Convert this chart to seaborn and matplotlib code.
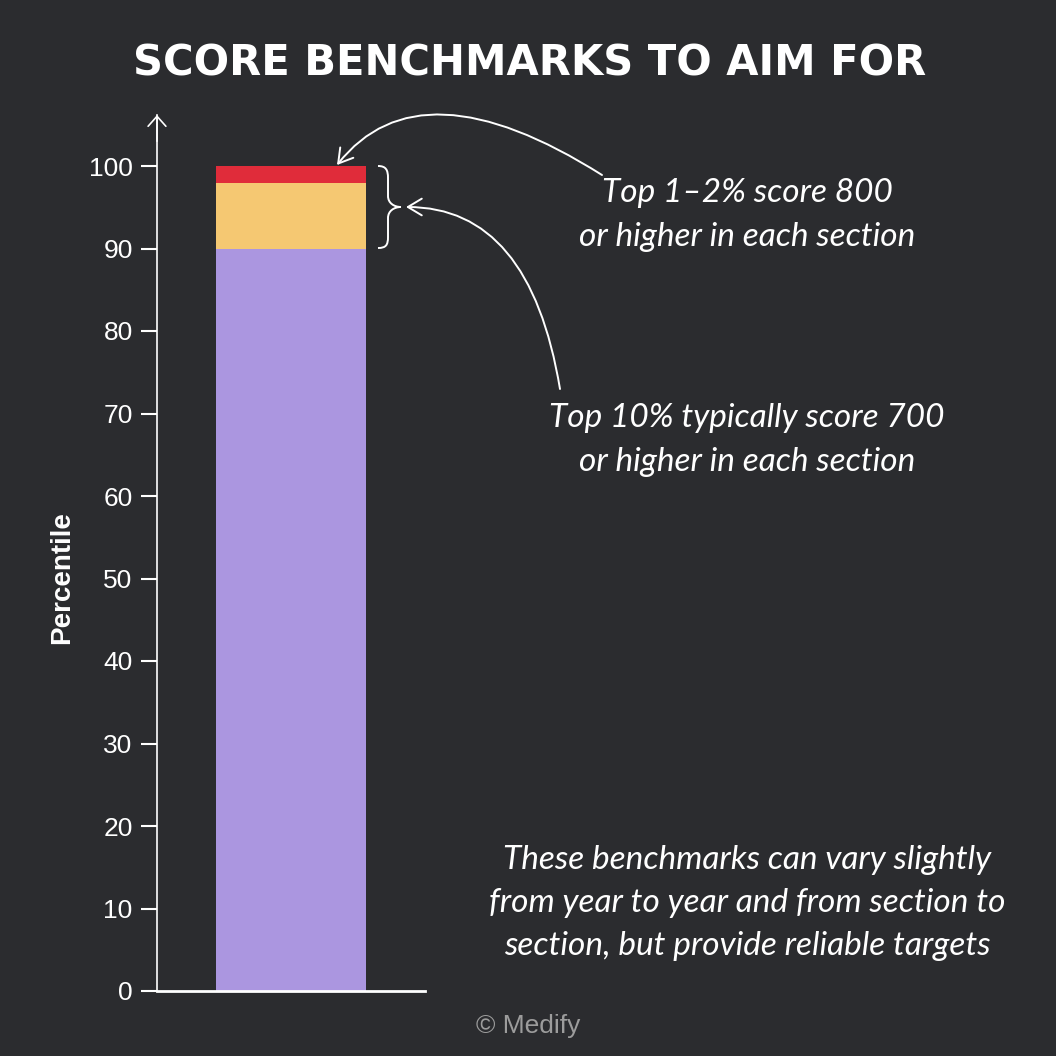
import seaborn as sns
import pandas as pd
import matplotlib.pyplot as plt
from matplotlib.path import Path
from matplotlib.patches import PathPatch

# data
segments = ['Top 1-2%', 'Top 10%', 'Rest']
segment_tops = [100, 98, 90]
segment_colors = ['#e02c3a', '#f5c872', '#ab96e0']
yticks = list(range(0, 101, 10))

title = 'SCORE BENCHMARKS TO AIM FOR'
note_top = 'Top 1–2% score 800\nor higher in each section'
note_mid = 'Top 10% typically score 700\nor higher in each section'
note_bottom = ('These benchmarks can vary slightly\nfrom year to year and from section to\n'
               'section, but provide reliable targets')

bg = '#2b2c2f'
sns.set_style('dark', {'axes.facecolor': bg, 'figure.facecolor': bg})
plt.rcParams['font.family'] = ['Liberation Sans', 'DejaVu Sans']

W = 1056
def P(x, y):
    return (x / W, 1 - y / W)

fig = plt.figure(figsize=(10.56, 10.56), dpi=100)
ax = fig.add_axes([157 / W, 1 - 991 / W, 268 / W, (991 - 115) / W])

df = pd.DataFrame({'segment': segments, 'top': segment_tops, 'x': [''] * 3})
for seg, top, col in zip(segments, segment_tops, segment_colors):
    sns.barplot(data=df[df.segment == seg], x='x', y='top', color=col,
                saturation=1, width=0.8, linewidth=0, ax=ax)

ax.set_xlim(-0.715, 0.714)
ax.set_ylim(0, 876 / 8.25)
ax.set_yticks(yticks)
ax.set_xticks([])
ax.set_xlabel('')
ax.set_ylabel('')
ax.tick_params(axis='y', colors='white', labelsize=19, length=11.5, width=1.5,
               pad=6, left=True)
for s in ['top', 'right']:
    ax.spines[s].set_visible(False)
ax.spines['left'].set_color('white')
ax.spines['left'].set_linewidth(1.2)
ax.spines['bottom'].set_color('white')
ax.spines['bottom'].set_linewidth(2)
ax.grid(False)

fig.text(*P(62, 578), 'Percentile', rotation=90, ha='center', va='center',
         color='white', fontsize=20, fontweight='bold')

# y axis arrow head
ax.annotate('', xy=(0, 1), xytext=(0, 0.97), xycoords='axes fraction',
            arrowprops=dict(arrowstyle='->,head_length=0.36,head_width=0.32',
                            color='white', lw=1.2, mutation_scale=20,
                            shrinkA=0, shrinkB=0))

fig.text(*P(530, 64), title, ha='center', va='center', color='white',
         fontsize=30, fontweight='bold', family='DejaVu Sans')

hand = dict(ha='center', va='center', color='white', fontsize=24,
            family='Lato', style='italic', linespacing=1.55)
fig.text(*P(747, 215), note_top, **hand)
fig.text(*P(747, 440), note_mid, **hand)
fig.text(*P(747, 903), note_bottom, **hand)

fig.text(*P(528, 1026), '© Medify', ha='center', va='center', color='#9c9c9c',
         fontsize=19)

arrow = dict(arrowstyle='->,head_length=0.5,head_width=0.3', color='white',
             lw=1.4, mutation_scale=20, shrinkA=0, shrinkB=0)
ax.annotate('', xy=P(337, 165), xytext=P(602, 175), xycoords='figure fraction',
            arrowprops=dict(connectionstyle='angle3,angleA=147.7,angleB=51.7', **arrow))
ax.annotate('', xy=P(406, 207), xytext=P(560, 389), xycoords='figure fraction',
            arrowprops=dict(connectionstyle='angle3,angleA=99.4,angleB=0', **arrow))

# brace
pts = [(378, 166), (386, 166), (388, 170), (388, 178), (388, 196),
       (388, 203), (394, 207), (401, 207),
       (394, 207), (388, 211), (388, 218), (388, 237),
       (388, 245), (386, 248), (378, 248)]
codes = [Path.MOVETO, Path.CURVE4, Path.CURVE4, Path.CURVE4, Path.LINETO,
         Path.CURVE4, Path.CURVE4, Path.CURVE4,
         Path.CURVE4, Path.CURVE4, Path.CURVE4, Path.LINETO,
         Path.CURVE4, Path.CURVE4, Path.CURVE4]
brace = Path([P(x, y) for x, y in pts], codes)
fig.patches.append(PathPatch(brace, transform=fig.transFigure, fill=False,
                             edgecolor='white', lw=1.4))

fig.savefig('out.png', dpi=100, facecolor=bg)
